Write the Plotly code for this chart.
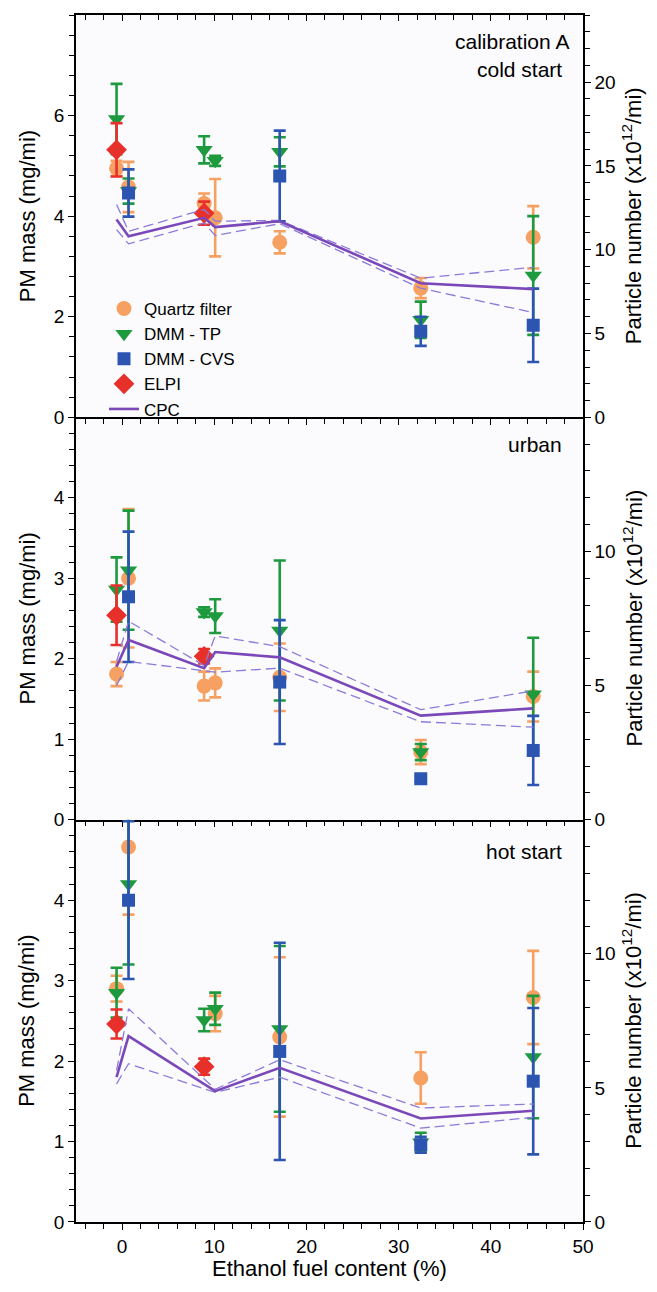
import plotly.graph_objects as go
from plotly.subplots import make_subplots

FONT = "Liberation Sans, Arial, sans-serif"

# ---------------- data ----------------
fuel_x = [-0.6, 0.7, 8.9, 10.1, 17.1, 32.4, 44.6]   # ethanol fuel content (%)

# calibration A cold start (PM mass, mg/mi)
cold_quartz = [4.95, 4.58, 4.25, 3.97, 3.48, 2.57, 3.58]
cold_quartz_err = [0.15, 0.5, 0.2, 0.77, 0.22, 0.2, 0.62]
cold_tp = [5.93, 4.5, 5.32, 5.1, 5.28, 1.94, 2.82]
cold_tp_err = [0.7, 0.25, 0.27, 0.1, 0.29, 0.36, 1.18]
cold_cvs = [None, 4.46, None, None, 4.8, 1.71, 1.83]
cold_cvs_err = [0, 0.47, 0, 0, 0.9, 0.29, 0.73]
cold_elpi = [5.32, None, 4.06, None, None, None, None]
cold_elpi_err = [0.53, 0, 0.23, 0, 0, 0, 0]

# urban
urban_quartz = [1.81, 3.0, 1.66, 1.7, 1.77, 0.84, 1.53]
urban_quartz_err = [0.15, 0.86, 0.18, 0.18, 0.42, 0.15, 0.31]
urban_tp = [2.86, 3.1, 2.58, 2.53, 2.35, 0.84, 1.56]
urban_tp_err = [0.4, 0.74, 0.06, 0.21, 0.87, 0.1, 0.7]
urban_cvs = [None, 2.77, None, None, 1.71, 0.51, 0.86]
urban_cvs_err = [0, 0.81, 0, 0, 0.77, 0.03, 0.43]
urban_elpi = [2.54, None, 2.03, None, None, None, None]
urban_elpi_err = [0.37, 0, 0.09, 0, 0, 0, 0]

# hot start
hot_quartz = [2.9, 4.66, None, 2.59, 2.3, 1.79, 2.79]
hot_quartz_err = [0.16, 0.84, 0, 0.22, 0.99, 0.32, 0.58]
hot_tp = [2.85, 4.2, 2.51, 2.65, 2.4, 0.99, 2.05]
hot_tp_err = [0.31, 1.0, 0.14, 0.2, 1.03, 0.12, 0.76]
hot_cvs = [None, 4.0, None, None, 2.12, 0.96, 1.75]
hot_cvs_err = [0, 0.98, 0, 0, 1.35, 0.1, 0.91]
hot_elpi = [2.46, None, 1.93, None, None, None, None]
hot_elpi_err = [0.18, 0, 0.1, 0, 0, 0, 0]

# CPC particle number (x10^12/mi): mean, upper, lower
cold_cpc_x = [-0.6, 0.7, 8.9, 10.1, 17.1, 32.4, 44.6]
cold_cpc = [11.8, 10.8, 11.9, 11.35, 11.7, 8.0, 7.65]
cold_cpc_hi = [12.7, 11.1, 12.4, 11.7, 11.75, 8.3, 8.95]
cold_cpc_lo = [11.2, 10.35, 11.6, 10.85, 11.55, 7.7, 6.25]

urban_cpc_x = [-0.6, 0.7, 8.9, 10.1, 17.1, 32.4, 44.6]
urban_cpc = [5.7, 6.7, 5.65, 6.25, 6.05, 3.88, 4.15]
urban_cpc_hi = [5.9, 7.4, 5.75, 6.85, 6.45, 4.1, 4.8]
urban_cpc_lo = [5.0, 5.9, 5.55, 5.5, 5.65, 3.65, 3.45]

hot_cpc_x = [-0.6, 0.7, 10.1, 17.1, 32.4, 44.6]
hot_cpc = [5.4, 6.93, 4.88, 5.75, 3.86, 4.15]
hot_cpc_hi = [5.65, 7.95, 4.95, 6.05, 4.25, 4.4]
hot_cpc_lo = [5.15, 5.9, 4.83, 5.4, 3.5, 3.9]

panel_labels = [["calibration A", "cold start"], ["urban"], ["hot start"]]
left_ticks_top = [0, 2, 4, 6]
left_ticks_low = [0, 1, 2, 3, 4]
right_ticks_top = [0, 5, 10, 15, 20]
right_ticks_low = [0, 5, 10]
x_ticks = [0, 10, 20, 30, 40, 50]

# ---------------- styles ----------------
C_QUARTZ = "#F6A062"
C_TP = "#1E9A3E"
C_CVS = "#2C55B2"
C_ELPI = "#E8302A"
C_CPC = "#7A48B8"
C_CPC_D = "#8C7BDA"

fig = make_subplots(rows=3, cols=1, shared_xaxes=True, vertical_spacing=0,
                    specs=[[{"secondary_y": True}]] * 3)

panels = [
    (1, cold_quartz, cold_quartz_err, cold_tp, cold_tp_err, cold_cvs, cold_cvs_err,
     cold_elpi, cold_elpi_err, cold_cpc_x, cold_cpc, cold_cpc_hi, cold_cpc_lo),
    (2, urban_quartz, urban_quartz_err, urban_tp, urban_tp_err, urban_cvs, urban_cvs_err,
     urban_elpi, urban_elpi_err, urban_cpc_x, urban_cpc, urban_cpc_hi, urban_cpc_lo),
    (3, hot_quartz, hot_quartz_err, hot_tp, hot_tp_err, hot_cvs, hot_cvs_err,
     hot_elpi, hot_elpi_err, hot_cpc_x, hot_cpc, hot_cpc_hi, hot_cpc_lo),
]

def err(arr, color):
    return dict(type="data", array=arr, visible=True, color=color, thickness=2.6, width=6)

for (row, q, qe, tp, tpe, cv, cve, el, ele, cx, cm, chi, clo) in panels:
    show = row == 1
    fig.add_trace(go.Scatter(x=fuel_x, y=q, mode="markers", name="Quartz filter",
                             legendgroup="q", showlegend=show,
                             marker=dict(symbol="circle", size=15, color=C_QUARTZ),
                             error_y=err(qe, C_QUARTZ)), row=row, col=1)
    fig.add_trace(go.Scatter(x=fuel_x, y=tp, mode="markers", name="DMM - TP",
                             legendgroup="tp", showlegend=show,
                             marker=dict(symbol="triangle-down", size=15, color=C_TP),
                             error_y=err(tpe, C_TP)), row=row, col=1)
    fig.add_trace(go.Scatter(x=fuel_x, y=cv, mode="markers", name="DMM - CVS",
                             legendgroup="cvs", showlegend=show,
                             marker=dict(symbol="square", size=13, color=C_CVS),
                             error_y=err(cve, C_CVS)), row=row, col=1)
    fig.add_trace(go.Scatter(x=fuel_x, y=el, mode="markers", name="ELPI",
                             legendgroup="elpi", showlegend=show,
                             marker=dict(symbol="diamond", size=16, color=C_ELPI),
                             error_y=err(ele, C_ELPI)), row=row, col=1)
    fig.add_trace(go.Scatter(x=cx, y=chi, mode="lines", showlegend=False, legendgroup="cpc",
                             line=dict(color=C_CPC_D, width=1.3, dash="10px,5px")),
                  row=row, col=1, secondary_y=True)
    fig.add_trace(go.Scatter(x=cx, y=clo, mode="lines", showlegend=False, legendgroup="cpc",
                             line=dict(color=C_CPC_D, width=1.3, dash="10px,5px")),
                  row=row, col=1, secondary_y=True)
    fig.add_trace(go.Scatter(x=cx, y=cm, mode="lines", name="CPC", legendgroup="cpc",
                             showlegend=show, line=dict(color=C_CPC, width=2.6)),
                  row=row, col=1, secondary_y=True)

# dummy trace for top-frame axis
fig.add_trace(go.Scatter(x=[None], y=[None], xaxis="x4", yaxis="y", showlegend=False,
                         hoverinfo="skip"))

tickfont = dict(family=FONT, size=19, color="black")
axis_common = dict(showline=True, linecolor="black", linewidth=1.5, showgrid=False,
                   zeroline=False, tickcolor="black", tickwidth=1.3, ticklen=6,
                   tickfont=tickfont)

fig.update_xaxes(range=[-5, 50], domain=[0, 1], ticks="outside", tickmode="array",
                 tickvals=x_ticks,
                 minor=dict(ticks="outside", tickmode="linear", tick0=0, dtick=2,
                            ticklen=5, tickcolor="black", tickwidth=1.2),
                 **axis_common)

for row in (1, 2, 3):
    lt = left_ticks_top if row == 1 else left_ticks_low
    rt = right_ticks_top if row == 1 else right_ticks_low
    lr = [0, 8] if row == 1 else [0, 5]
    rr = [0, 24] if row == 1 else [0, 15]
    lminor = 0.4 if row == 1 else 0.2
    fig.update_yaxes(range=lr, ticks="outside", tickmode="array", tickvals=lt,
                     minor=dict(ticks="outside", tickmode="linear", tick0=0, dtick=lminor,
                                ticklen=5, tickcolor="black", tickwidth=1.2),
                     row=row, col=1, secondary_y=False, **axis_common)
    fig.update_yaxes(range=rr, ticks="outside", tickmode="array", tickvals=rt,
                     minor=dict(ticks="outside", tickmode="linear", tick0=0, dtick=1,
                                ticklen=5, tickcolor="black", tickwidth=1.2),
                     row=row, col=1, secondary_y=True, **axis_common)

fig.update_layout(
    xaxis4=dict(overlaying="x", side="top", anchor="y", range=[-5, 50], domain=[0, 1],
                showline=True, linecolor="black", linewidth=1.5, showgrid=False,
                zeroline=False, ticks="inside", tickmode="array", tickvals=x_ticks,
                ticklen=6, tickwidth=1.3, tickcolor="black", showticklabels=False,
                minor=dict(ticks="inside", tickmode="linear", tick0=0, dtick=2,
                           ticklen=5, tickcolor="black", tickwidth=1.2)),
)

# titles and panel labels
L, R, T, B = 76, 74, 15, 70
W, H = 657, 1292
pw, ph = W - L - R, H - T - B

def px_x(px):
    return (px - L) / pw

def px_y(py):
    return (H - B - py) / ph

ann = []
title_font = dict(family=FONT, size=22, color="black")
for c in (5 / 6, 1 / 2, 1 / 6):
    ann.append(dict(text="PM mass (mg/mi)", x=px_x(27), y=c, xref="paper", yref="paper",
                    textangle=-90, showarrow=False, font=title_font,
                    xanchor="center", yanchor="middle"))
    ann.append(dict(text="Particle number (x10<sup>12</sup>/mi)", x=px_x(632), y=c,
                    xref="paper", yref="paper", textangle=-90, showarrow=False,
                    font=title_font, xanchor="center", yanchor="middle"))
ann.append(dict(text="Ethanol fuel content (%)", x=0.5, y=px_y(1268), xref="paper",
                yref="paper", showarrow=False, font=title_font, xanchor="center",
                yanchor="middle"))
lab_font = dict(family=FONT, size=21, color="black")
label_pos = [[(571, 41), (564, 69)], [(564, 444)], [(564, 852)]]
for texts, poss in zip(panel_labels, label_pos):
    for t, (lx, ly) in zip(texts, poss):
        ann.append(dict(text=t, x=px_x(lx), y=px_y(ly), xref="paper", yref="paper",
                        showarrow=False, font=lab_font, xanchor="right",
                        yanchor="middle"))

fig.update_layout(
    width=W, height=H,
    margin=dict(l=L, r=R, t=T, b=B),
    paper_bgcolor="white",
    plot_bgcolor="#FBFBFD",
    annotations=ann,
    legend=dict(x=px_x(104), y=px_y(291), xanchor="left", yanchor="top",
                bgcolor="rgba(0,0,0,0)", font=dict(family=FONT, size=17, color="black"),
                tracegroupgap=0, itemsizing="trace"),
    showlegend=True,
)

fig.write_html("out.html")
